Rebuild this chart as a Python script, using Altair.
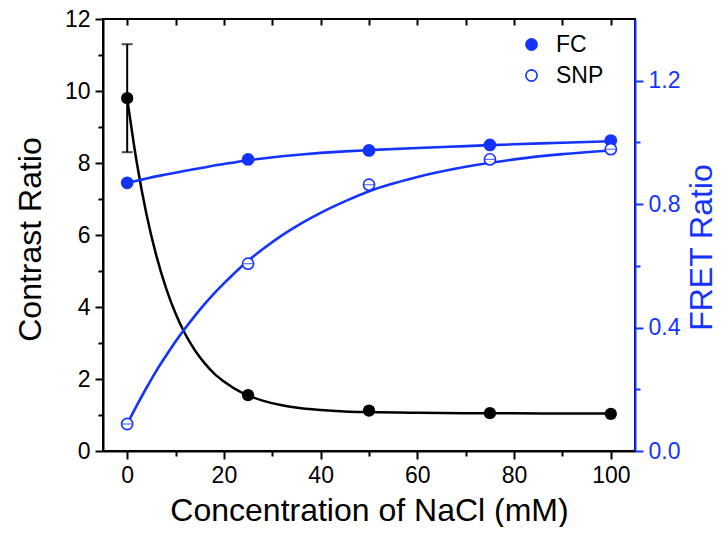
import altair as alt
import pandas as pd

# ---- data ----
nacl = [0, 25, 50, 75, 100]
contrast = [9.8, 1.55, 1.12, 1.05, 1.03]
contrast_err_lo = [8.3, None, None, None, None]
contrast_err_hi = [11.3, None, None, None, None]
fc_fret = [0.869, 0.945, 0.974, 0.992, 1.006]
snp_fret = [0.0875, 0.607, 0.863, 0.945, 0.978]

curve_x = [0, 2, 4, 6, 8, 10, 12, 14, 16, 18, 20, 24, 28, 32, 36, 40, 45, 50, 60, 70, 80, 90, 100]
contrast_fit = [9.80, 8.00, 6.57, 5.44, 4.54, 3.82, 3.25, 2.80, 2.44, 2.15, 1.93, 1.60, 1.40,
                1.27, 1.19, 1.14, 1.10, 1.08, 1.06, 1.05, 1.05, 1.04, 1.04]
snp_fit = [0.0875, 0.148, 0.205, 0.259, 0.308, 0.355, 0.398, 0.438, 0.476, 0.511, 0.543, 0.603,
           0.654, 0.699, 0.738, 0.772, 0.809, 0.842, 0.888, 0.921, 0.945, 0.962, 0.974]
fc_fit = [0.869, 0.876, 0.883, 0.890, 0.896, 0.902, 0.908, 0.914, 0.919, 0.925, 0.930, 0.940,
          0.948, 0.955, 0.961, 0.966, 0.971, 0.975, 0.982, 0.988, 0.994, 0.999, 1.004]

x_ticks = [0, 10, 20, 30, 40, 50, 60, 70, 80, 90, 100]
left_ticks = [0, 1, 2, 3, 4, 5, 6, 7, 8, 9, 10, 11, 12]
right_ticks = [0.0, 0.2, 0.4, 0.6, 0.8, 1.0, 1.2]
series_names = ["FC", "SNP"]

BLUE = "#1433ff"
FONT = "Liberation Sans"
LBL = 23
TTL = 32

# ---- tables ----
pts = pd.DataFrame({"x": nacl, "contrast": contrast, "lo": contrast_err_lo, "hi": contrast_err_hi})
err = pts.dropna()
fit = pd.DataFrame({"x": curve_x, "contrast": contrast_fit, "snp": snp_fit, "fc": fc_fit})
blue_pts = pd.DataFrame({
    "x": nacl + nacl,
    "fret": fc_fret + snp_fret,
    "series": ["FC"] * len(nacl) + ["SNP"] * len(nacl),
})
snp_pts = blue_pts[blue_pts["series"] == "SNP"]

x_scale = alt.Scale(domain=[-5, 105], nice=False, zero=False)
yl_scale = alt.Scale(domain=[0, 12], nice=False)
yr_scale = alt.Scale(domain=[0, 1.4], nice=False)

common = dict(labelFont=FONT, titleFont=FONT, labelFontSize=LBL, titleFontSize=TTL,
              titleFontWeight="normal", domainWidth=2, tickWidth=2, grid=False)

x_bottom = alt.Axis(
    orient="bottom", values=x_ticks, title="Concentration of NaCl (mM)",
    labelExpr="datum.value % 20 === 0 ? datum.label : ''",
    tickSize={"condition": {"test": "datum.value % 20 === 0", "value": 8}, "value": 5},
    labelPadding=5, domainColor="black", tickColor="black",
    labelColor="black", titleColor="black",
    titleX=266, titleY=69, titleAlign="center", titleBaseline="alphabetic",
    **common,
)
x_top = alt.Axis(
    orient="top", values=x_ticks, title=None, labels=False, domain=False,
    tickSize=6, offset=-6, tickColor="black", tickWidth=2, grid=False,
)
y_left = alt.Axis(
    orient="left", values=left_ticks, title="Contrast Ratio",
    labelExpr="datum.value % 2 === 0 ? datum.label : ''",
    tickSize={"condition": {"test": "datum.value % 2 === 0", "value": 8}, "value": 5},
    labelPadding=5, domainColor="black", tickColor="black",
    labelColor="black", titleColor="black",
    titleAngle=270, titleX=-73, titleY=220, titleAlign="center", titleBaseline="middle",
    **common,
)
y_right = alt.Axis(
    orient="right", values=right_ticks, title="FRET Ratio", format=".1f",
    labelExpr="round(datum.value * 10) % 4 === 0 ? datum.label : ''",
    tickSize={"condition": {"test": "round(datum.value * 10) % 4 === 0", "value": 8}, "value": 5},
    labelPadding=5, titleAngle=270, titleX=76, titleY=228, titleAlign="center",
    titleBaseline="alphabetic",
    domainColor=BLUE, tickColor=BLUE, labelColor=BLUE, titleColor=BLUE,
    **common,
)

xb = alt.X("x:Q", scale=x_scale, axis=x_bottom)
xt = alt.X("x:Q", scale=x_scale, axis=x_top)

black_line = alt.Chart(fit).mark_line(color="black", strokeWidth=2.5, interpolate="monotone").encode(
    x=xb, y=alt.Y("contrast:Q", scale=yl_scale, axis=y_left))
black_err = alt.Chart(err).mark_rule(color="black", strokeWidth=2).encode(
    x=xb, y=alt.Y("lo:Q", scale=yl_scale, axis=y_left), y2="hi:Q")
black_cap_lo = alt.Chart(err).mark_tick(color="black", orient="horizontal", size=11, thickness=2).encode(
    x=xb, y=alt.Y("lo:Q", scale=yl_scale, axis=y_left))
black_cap_hi = alt.Chart(err).mark_tick(color="black", orient="horizontal", size=11, thickness=2).encode(
    x=xb, y=alt.Y("hi:Q", scale=yl_scale, axis=y_left))
black_pts = alt.Chart(pts).mark_circle(color="black", size=150, opacity=1).encode(
    x=xb, y=alt.Y("contrast:Q", scale=yl_scale, axis=y_left))

black = alt.layer(black_line, black_err, black_cap_lo, black_cap_hi, black_pts)

snp_line = alt.Chart(fit).mark_line(color=BLUE, strokeWidth=2.6, interpolate="monotone").encode(
    x=xt, y=alt.Y("snp:Q", scale=yr_scale, axis=y_right))
fc_line = alt.Chart(fit).mark_line(color=BLUE, strokeWidth=2.6, interpolate="monotone").encode(
    x=xt, y=alt.Y("fc:Q", scale=yr_scale, axis=y_right))
blue_marks = alt.Chart(blue_pts).mark_point(shape="circle", filled=True, size=125, stroke=BLUE,
                                             strokeWidth=1.6, opacity=1).encode(
    x=xt, y=alt.Y("fret:Q", scale=yr_scale, axis=y_right),
    fill=alt.Fill("series:N", scale=alt.Scale(domain=series_names, range=[BLUE, "white"]),
                  legend=alt.Legend(title=None, orient="none", legendX=417, legendY=14,
                                    symbolType="circle", symbolSize=125,
                                    symbolStrokeColor=BLUE, symbolStrokeWidth=1.6,
                                    labelFont=FONT, labelFontSize=LBL, labelColor="black",
                                    rowPadding=7, labelOffset=13)),
)
snp_bar = alt.Chart(snp_pts).mark_tick(color=BLUE, orient="horizontal", size=10, thickness=1.2).encode(
    x=xt, y=alt.Y("fret:Q", scale=yr_scale, axis=y_right))

blue = alt.layer(snp_line, fc_line, blue_marks, snp_bar)

chart = alt.layer(black, blue).resolve_scale(y="independent").resolve_axis(
    x="independent", y="independent"
).properties(
    width=532, height=432,
    autosize=alt.AutoSizeParams(type="none"),
    padding={"left": 95, "top": 11, "right": 85, "bottom": 76},
).configure_view(stroke="black", strokeWidth=2)

chart.save("out.html", embed_options={"renderer": "svg", "actions": False})
